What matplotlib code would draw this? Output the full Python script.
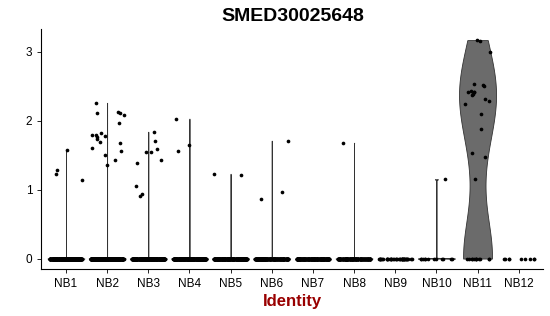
import numpy as np
import matplotlib
matplotlib.use('Agg')
from matplotlib import pyplot as plt

plt.rcParams['font.family'] = ['Liberation Sans', 'DejaVu Sans']

title = 'SMED30025648'
groups = ['NB1', 'NB2', 'NB3', 'NB4', 'NB5', 'NB6',
          'NB7', 'NB8', 'NB9', 'NB10', 'NB11', 'NB12']

# expression values above zero, per group
nb1 = [1.58, 1.28, 1.22, 1.14]
nb2 = [2.26, 2.13, 2.11, 2.11, 2.08, 1.96, 1.82, 1.80, 1.80, 1.78,
       1.76, 1.74, 1.69, 1.67, 1.61, 1.56, 1.50, 1.43, 1.36]
nb3 = [1.84, 1.71, 1.59, 1.55, 1.54, 1.43, 1.38, 1.06, 0.94, 0.91]
nb4 = [2.03, 1.65, 1.56]
nb5 = [1.23, 1.21]
nb6 = [1.71, 0.96, 0.86]
nb7 = []
nb8 = [1.68]
nb9 = []
nb10 = [1.15]
nb11 = [3.17, 3.16, 3.00, 2.54, 2.52, 2.50, 2.43, 2.41, 2.41, 2.41,
        2.39, 2.38, 2.32, 2.28, 2.24, 2.10, 1.88, 1.53, 1.47, 1.15]
nb12 = []
nonzero = [nb1, nb2, nb3, nb4, nb5, nb6, nb7, nb8, nb9, nb10, nb11, nb12]

# number of cells with zero expression, per group
zero_counts = [300, 350, 300, 300, 260, 200, 220, 160, 40, 12, 12, 9]

data = [np.concatenate([np.zeros(z), np.array(v)]) for z, v in zip(zero_counts, nonzero)]

fig, ax = plt.subplots(figsize=(5.5, 3.16), dpi=100)
fig.subplots_adjust(left=0.075, right=0.988, bottom=0.148, top=0.908)

pos = np.arange(1, len(groups) + 1)

# mostly-zero groups: violins collapse to thin lines
thin = [i for i in range(len(groups)) if len(nonzero[i]) > 0 and i != 10]
vp1 = ax.violinplot([data[i] for i in thin], positions=pos[thin], widths=0.9,
                    showextrema=False, bw_method=0.01)
vp2 = ax.violinplot([data[10]], positions=[pos[10]], widths=0.9,
                    showextrema=False, bw_method=0.5)
for body in vp1['bodies'] + vp2['bodies']:
    body.set_facecolor('#6b6b6b')
    body.set_edgecolor('#333333')
    body.set_linewidth(0.6)
    body.set_alpha(1)

rng = np.random.default_rng(3)
for p, vals in zip(pos, data):
    jit = rng.uniform(-0.4, 0.4, len(vals))
    if p == 11:
        jit = jit * 0.75
    ax.scatter(p + jit, vals, s=7, color='black', linewidths=0, zorder=3)

ax.set_xlim(0.4, 12.6)
ax.set_ylim(-0.155, 3.33)
ax.set_xticks(pos)
ax.set_xticklabels(groups)
ax.set_yticks([0, 1, 2, 3])
ax.tick_params(labelsize=8.5, length=3, width=0.6, color='black')
for s in ['top', 'right']:
    ax.spines[s].set_visible(False)
for s in ['left', 'bottom']:
    ax.spines[s].set_linewidth(0.8)

ax.set_title(title, fontsize=14, fontweight='bold', pad=6)
ax.set_xlabel('Identity', fontsize=12, fontweight='bold', color='#990000', labelpad=3)

fig.savefig('out.png')
